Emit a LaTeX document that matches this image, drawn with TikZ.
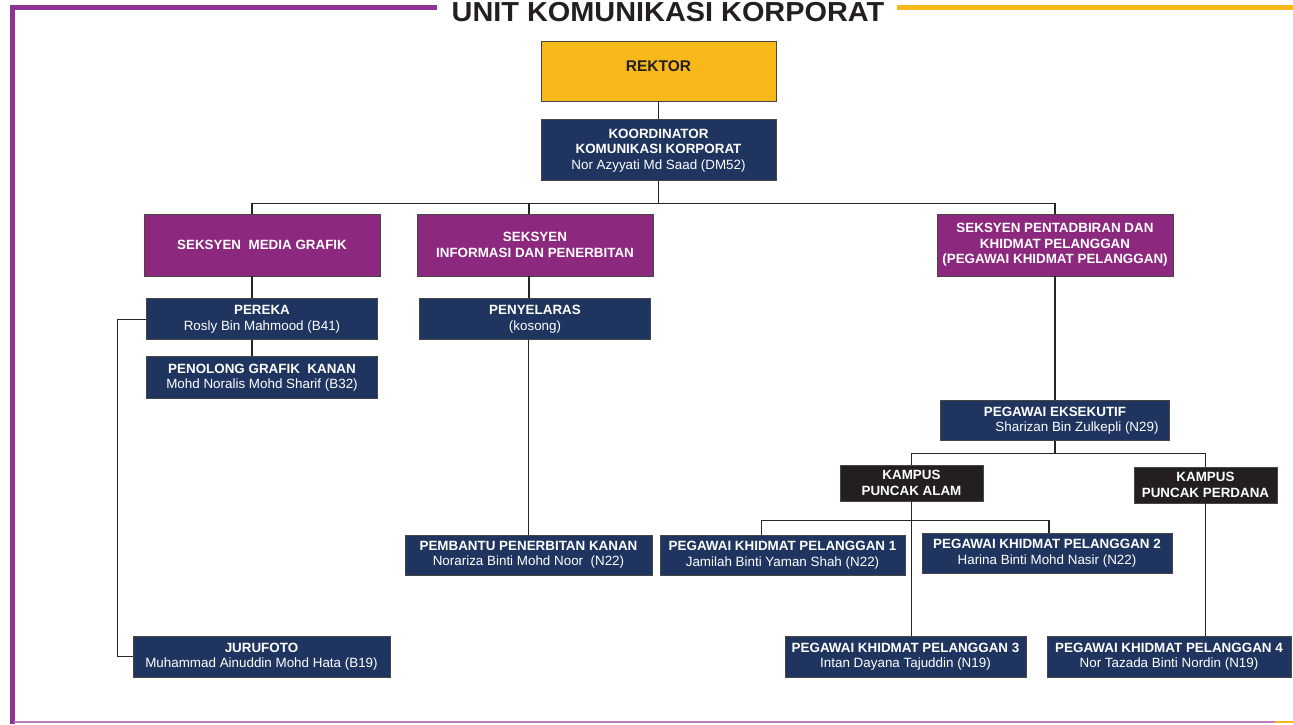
\documentclass[tikz,border=0pt]{standalone}
\usepackage{fontspec}
\setmainfont{Liberation Sans}
\usepackage{xcolor}
\usepackage{tikz}
\usetikzlibrary{positioning}
\definecolor{unitPurple}{RGB}{142,52,146}
\definecolor{unitPurpleLight}{RGB}{185,125,190}
\definecolor{unitGold}{RGB}{247,185,26}
\definecolor{secPurple}{RGB}{140,40,125}
\definecolor{staffNavy}{RGB}{31,53,96}
\definecolor{campusDark}{RGB}{35,31,32}
\definecolor{edgeGrey}{RGB}{70,70,70}
\tikzset{
  orgbox/.style={draw=edgeGrey, line width=0.8pt, inner sep=0pt, align=center, font=\fontsize{13.4}{15.5}\selectfont},
  goldbox/.style={orgbox, fill=unitGold, text=campusDark},
  secbox/.style={orgbox, fill=secPurple, text=white},
  navybox/.style={orgbox, fill=staffNavy, text=white},
  campusbox/.style={orgbox, fill=campusDark, text=white},
  link/.style={draw=black!85, line width=1.1pt}
}

\begin{document}
\begin{tikzpicture}[x=1pt, y=-1pt, node distance=22pt]
\useasboundingbox (0,0) rectangle (1293,725);
% frame and title
\draw[unitPurple, line width=5pt] (437,8) -- (12,8) -- (12,724);
\draw[unitPurpleLight, line width=2pt] (14,722) -- (1275,722);
\draw[unitGold, line width=2pt] (1275,722) -- (1293,722);
\draw[unitGold, line width=5pt] (897,8) -- (1293,8);
\node[font=\fontsize{27.5}{28}\selectfont\bfseries, text=campusDark, anchor=base, inner sep=0pt] (title) at (668,22) {\scalebox{1.05}[1]{UNIT KOMUNIKASI KORPORAT}};

\node[goldbox, minimum width=235pt, minimum height=60pt] (rektor) at (658.5,71) {\raisebox{-1pt}[0pt][0pt]{\fontsize{15.5}{17}\selectfont\textbf{REKTOR}}};
\node[navybox, minimum width=235pt, minimum height=61pt, below=18pt of rektor] (koord) {\textbf{KOORDINATOR}\\\textbf{KOMUNIKASI KORPORAT}\\Nor Azyyati Md Saad (DM52)};

\node[secbox, minimum width=236pt, minimum height=62pt] (smg) at (262,245) {\textbf{SEKSYEN\ \ MEDIA GRAFIK}};
\node[secbox, minimum width=236pt, minimum height=62pt] (sip) at (535,245) {\textbf{SEKSYEN}\\\textbf{INFORMASI DAN PENERBITAN}};
\node[secbox, minimum width=236pt, minimum height=62pt] (spk) at (1055,245) {\textbf{SEKSYEN PENTADBIRAN DAN}\\\textbf{KHIDMAT PELANGGAN}\\\textbf{(PEGAWAI KHIDMAT PELANGGAN)}};

\node[navybox, minimum width=231pt, minimum height=41pt, below=of smg] (pereka) {\textbf{PEREKA}\\Rosly Bin Mahmood (B41)};
\node[navybox, minimum width=231pt, minimum height=42pt, below=16pt of pereka] (penolong) {\textbf{PENOLONG GRAFIK\ \ KANAN}\\Mohd Noralis Mohd Sharif (B32)};
\node[navybox, minimum width=257pt, minimum height=41pt] (jurufoto) at (261.5,656.5) {\textbf{JURUFOTO}\\Muhammad Ainuddin Mohd Hata (B19)};

\node[navybox, minimum width=231pt, minimum height=41pt, below=of sip] (penyelaras) {\textbf{PENYELARAS}\\(kosong)};
\node[navybox, minimum width=247pt, minimum height=40pt] (pembantu) at (528.5,555) {\textbf{PEMBANTU PENERBITAN KANAN}\\Norariza Binti Mohd Noor\ \ (N22)};

\node[navybox, minimum width=229pt, minimum height=40pt, below=124pt of spk] (pe) {\textbf{PEGAWAI EKSEKUTIF}\\\hspace*{44pt}Sharizan Bin Zulkepli (N29)};
\node[campusbox, minimum width=143pt, minimum height=36pt] (kpa) at (911.5,483) {\textbf{KAMPUS}\\\textbf{PUNCAK ALAM}};
\node[campusbox, minimum width=143pt, minimum height=36pt] (kpp) at (1205.5,485) {\textbf{KAMPUS}\\\textbf{PUNCAK PERDANA}};

\node[navybox, minimum width=245pt, minimum height=40pt] (pkp1) at (782.5,555) {\textbf{PEGAWAI KHIDMAT PELANGGAN 1}\\Jamilah Binti Yaman Shah (N22)};
\node[navybox, minimum width=250pt, minimum height=40pt] (pkp2) at (1047,553) {\textbf{PEGAWAI KHIDMAT PELANGGAN 2}\\Harina Binti Mohd Nasir (N22)};
\node[navybox, minimum width=241pt, minimum height=41pt] (pkp3) at (905.5,656.5) {\textbf{PEGAWAI KHIDMAT PELANGGAN 3}\\Intan Dayana Tajuddin (N19)};
\node[navybox, minimum width=244pt, minimum height=41pt] (pkp4) at (1169,656.5) {\textbf{PEGAWAI KHIDMAT PELANGGAN 4}\\Nor Tazada Binti Nordin (N19)};

% connectors
\draw[link] (rektor) -- (koord);
\draw[link] (koord.south) -- ++(0,22) coordinate (hubtop);
\draw[link] ([xshift=-10pt]smg.north) |- (hubtop) -| (spk.north);
\draw[link] ([xshift=-6pt]sip.north) -- ([xshift=-6pt]sip.north |- hubtop);
\draw[link] ([xshift=-10pt]smg.south) -- ([xshift=-10pt]pereka.north);
\draw[link] ([xshift=-10pt]pereka.south) -- ([xshift=-10pt]penolong.north);
\draw[link] (pereka.west) -- ++(-29,0) |- (jurufoto.west);
\draw[link] ([xshift=-6pt]sip.south) -- ([xshift=-6pt]penyelaras.north);
\draw[link] ([xshift=-6.5pt]penyelaras.south) -- (pembantu.north);
\draw[link] (spk) -- (pe);
\draw[link] (pe.south) -- ++(0,12) coordinate (hubpe);
\draw[link] (kpa.north) |- (hubpe) -| (kpp.north);
\draw[link] (kpa.south) -- (kpa.south |- pkp3.north);
\draw[link] (kpa.south) -- ++(0,19) coordinate (hubpa);
\draw[link] ([xshift=-21pt]pkp1.north) |- (hubpa) -| ([xshift=2pt]pkp2.north);
\draw[link] (kpp.south) -- (kpp.south |- pkp4.north);
\end{tikzpicture}
\end{document}
